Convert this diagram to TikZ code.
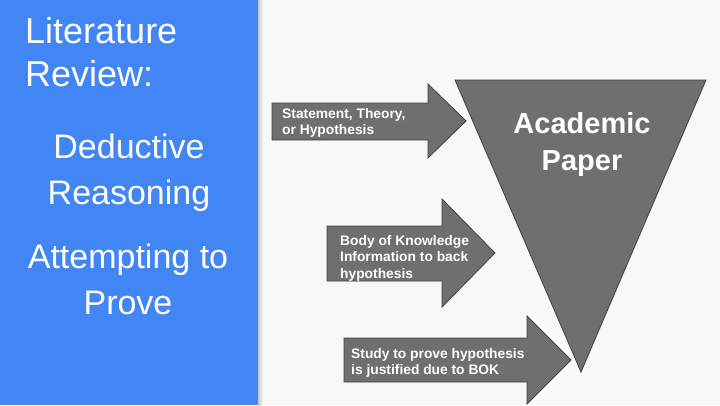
\documentclass[tikz,border=0pt]{standalone}
\usepackage{fontspec}
\setmainfont{Liberation Sans}
\usetikzlibrary{positioning}
\definecolor{slideblue}{RGB}{66,133,244}
\definecolor{slidebg}{RGB}{248,248,248}
\definecolor{blockgray}{RGB}{111,111,111}
\definecolor{blockedge}{RGB}{64,64,64}

\begin{document}
\begin{tikzpicture}[x=1pt,y=-1pt,
  blockshape/.style={fill=blockgray, draw=blockedge, line width=0.8pt, line join=miter},
  arrowtext/.style={text=white, inner sep=0pt, anchor=north west, align=left,
    font=\bfseries\fontsize{13.8}{16.5}\selectfont},
  paneltext/.style={text=white, inner sep=0pt, anchor=north}]
  % Background and left panel
  \fill[slidebg] (0,0) rectangle (720,405);
  \fill[slideblue] (0,0) rectangle (258,405);
  \shade[left color=black!22, right color=slidebg] (258,0) rectangle (263,405);

  % Funnel
  \draw[blockshape] (455,80) -- (706,80) -- (581,372) -- cycle;
  \node[text=white, inner sep=0pt, anchor=north, align=center,
    font=\bfseries\fontsize{29}{37}\selectfont] (paper) at (582,112) {Academic\\Paper};

  % Block arrows
  \draw[blockshape] (272,103) -- (428,103) -- (428,84) -- (466,121) -- (428,158)
    -- (428,140) -- (272,140) -- cycle;
  \draw[blockshape] (327,226) -- (442,226) -- (442,199) -- (495,253) -- (442,307)
    -- (442,281) -- (327,281) -- cycle;
  \draw[blockshape] (344,338) -- (527,338) -- (527,316) -- (571,360) -- (527,404)
    -- (527,382) -- (344,382) -- cycle;

  \node[arrowtext] (statement) at (282,108) {Statement, Theory,\\or Hypothesis};
  \node[arrowtext] (body) at (340,235) {Body of Knowledge\\Information to back\\hypothesis};
  \node[arrowtext] (study) at (351,348) {Study to prove hypothesis\\is justified due to BOK};

  % Panel titles
  \node[paneltext, anchor=north west, align=left, font=\fontsize{36}{43}\selectfont]
    (litreview) at (25,17) {Literature\\Review:};
  \node[paneltext, align=center, font=\fontsize{34}{46}\selectfont]
    (deductive) at (129,134) {Deductive\\Reasoning};
  \node[paneltext, align=center, font=\fontsize{34}{46}\selectfont]
    (attempt) at (128,244) {Attempting to\\Prove};
\end{tikzpicture}
\end{document}
